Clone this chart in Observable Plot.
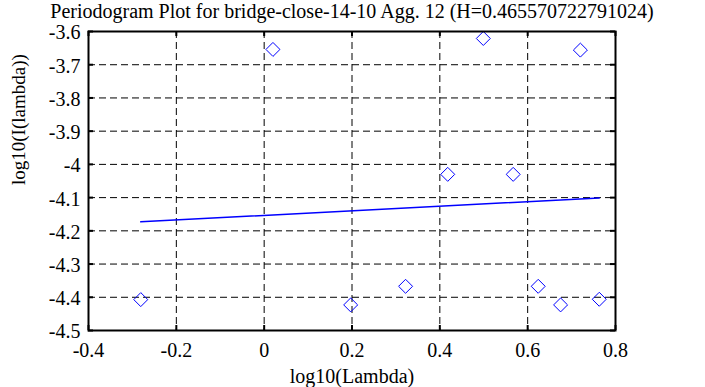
<!DOCTYPE html>
<html>
<head>
<meta charset="utf-8">
<script src="https://cdn.jsdelivr.net/npm/d3@7"></script>
<script src="https://cdn.jsdelivr.net/npm/@observablehq/plot@0.6"></script>
<style>
  html, body { margin: 0; padding: 0; background: #fff; }
  #chart svg, #chart svg text { font-family: "Liberation Serif", serif !important; }
</style>
</head>
<body>
<div id="chart"></div>
<script>
const titleText = "Periodogram Plot for bridge-close-14-10 Agg. 12 (H=0.465570722791024)";
const xLabelText = "log10(Lambda)";
const yLabelText = "log10(I(lambda))";

const logLambda = [-0.281, 0.020, 0.197, 0.322, 0.418, 0.499, 0.567, 0.624, 0.675, 0.720, 0.763];
const logI      = [-4.407, -3.654, -4.423, -4.367, -4.030, -3.621, -4.030, -4.367, -4.423, -3.656, -4.406];

const fitX = [-0.281, 0.763];
const fitY = [-4.173, -4.101];

const xTicks = [-0.4, -0.2, 0, 0.2, 0.4, 0.6, 0.8];
const xTickLabels = ["-0.4", "-0.2", "0", "0.2", "0.4", "0.6", "0.8"];
const yTicks = [-3.6, -3.7, -3.8, -3.9, -4.0, -4.1, -4.2, -4.3, -4.4, -4.5];
const yTickLabels = ["-3.6", "-3.7", "-3.8", "-3.9", "-4", "-4.1", "-4.2", "-4.3", "-4.4", "-4.5"];

const points = logLambda.map((x, i) => ({x, y: logI[i]}));
const fit = fitX.map((x, i) => ({x, y: fitY[i]}));

const W = 705, H = 387;
const mTop = 31, mRight = 90, mBottom = 57, mLeft = 88;
const pw = W - mLeft - mRight, ph = H - mTop - mBottom;
const tickLen = 5;
const FONT = "Liberation Serif";

const xFmt = d => xTickLabels[xTicks.findIndex(t => Math.abs(t - d) < 1e-9)];
const yFmt = d => yTickLabels[yTicks.findIndex(t => Math.abs(t - d) < 1e-9)];

const chart = Plot.plot({
  width: W,
  height: H,
  marginTop: mTop,
  marginRight: mRight,
  marginBottom: mBottom,
  marginLeft: mLeft,
  style: {fontSize: "20px", background: "#fff", color: "#000"},
  x: {domain: [-0.4, 0.8]},
  y: {domain: [-4.5, -3.6]},
  marks: [
    Plot.gridX(xTicks.slice(1, -1), {stroke: "#000", strokeOpacity: 1, strokeWidth: 1, strokeDasharray: "7,4"}),
    Plot.gridY(yTicks.slice(1, -1), {stroke: "#000", strokeOpacity: 1, strokeWidth: 1, strokeDasharray: "7,4"}),
    Plot.ruleX(xTicks, {x: d => d, insetTop: ph - tickLen, stroke: "#000", strokeWidth: 2}),
    Plot.ruleX(xTicks, {x: d => d, insetBottom: ph - tickLen, stroke: "#000", strokeWidth: 2}),
    Plot.ruleY(yTicks, {y: d => d, insetRight: pw - tickLen, stroke: "#000", strokeWidth: 2}),
    Plot.ruleY(yTicks, {y: d => d, insetLeft: pw - tickLen, stroke: "#000", strokeWidth: 2}),
    Plot.axisX(xTicks, {tickSize: 0, tickPadding: 12, tickFormat: xFmt, label: null, fontSize: 20, fontFamily: FONT}),
    Plot.axisY(yTicks, {tickSize: 0, tickPadding: 8, tickFormat: yFmt, label: null, fontSize: 20, fontFamily: FONT, dy: 1.5}),
    Plot.line(fit, {x: "x", y: "y", stroke: "#0000ff", strokeWidth: 1.5}),
    Plot.dot(points, {x: "x", y: "y", symbol: "diamond2", r: 6.3, stroke: "#0000ff", fill: "none", strokeWidth: 1}),
    Plot.frame({stroke: "#000", strokeWidth: 2}),
    Plot.text([titleText], {text: d => d, frameAnchor: "top", lineAnchor: "middle", dy: -20, fontSize: 20, fill: "#000", fontFamily: FONT}),
    Plot.text([xLabelText], {text: d => d, frameAnchor: "bottom", lineAnchor: "middle", dy: 46, fontSize: 20, fill: "#000", fontFamily: FONT}),
    Plot.text([yLabelText], {text: d => d, frameAnchor: "left", lineAnchor: "middle", dx: -70, dy: 4, rotate: -90, fontSize: 19, fill: "#000", fontFamily: FONT})
  ]
});
document.getElementById("chart").appendChild(chart);
</script>
</body>
</html>
